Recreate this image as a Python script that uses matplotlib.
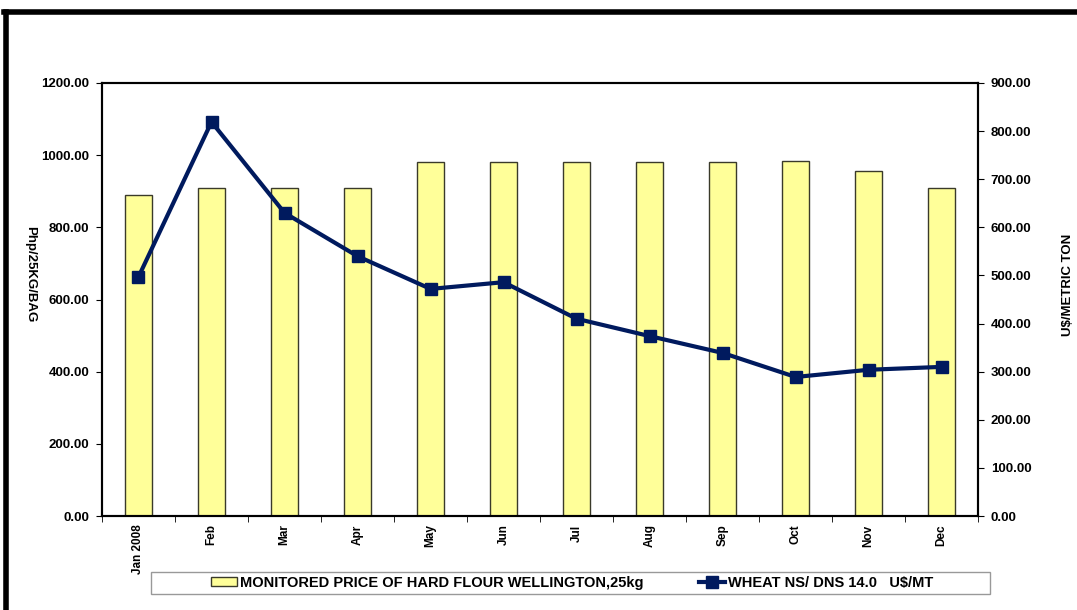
import numpy as np
import matplotlib.pyplot as plt
from matplotlib.lines import Line2D
from matplotlib.patches import Rectangle

plt.rcParams['font.family'] = ['Liberation Sans', 'DejaVu Sans']

months = ['Jan 2008', 'Feb', 'Mar', 'Apr', 'May', 'Jun',
          'Jul', 'Aug', 'Sep', 'Oct', 'Nov', 'Dec']
# Php per 25kg bag, hard flour (left axis)
flour_price = [890, 910, 910, 910, 980, 980, 980, 980, 980, 985, 955, 910]
# US$ per metric ton, wheat NS/DNS 14.0 (right axis)
wheat_price = [497, 819, 630, 540, 472, 486, 410, 374, 339, 289, 304, 310]

BAR_COLOR = '#FFFF99'
LINE_COLOR = '#001A5E'
W, H = 1077, 610

fig = plt.figure(figsize=(W / 100, H / 100), dpi=100)
ax = fig.add_axes([0.0947, 0.154, 0.8135, 0.710])
x = np.arange(len(months))

ax.bar(x, flour_price, width=0.38, color=BAR_COLOR, edgecolor='#3a3a2a',
       linewidth=1.0, zorder=2)
ax.set_xlim(-0.5, len(months) - 0.5)
ax.set_ylim(0, 1200)
ax.set_yticks(np.arange(0, 1201, 200))
ax.set_yticklabels([f'{v:.2f}' for v in np.arange(0, 1201, 200)],
                   fontsize=9.5, fontweight='bold')

# month labels sit under the bars, ticks fall between categories
ax.set_xticks(x)
ax.set_xticklabels(months, rotation=90, fontsize=8.5, fontweight='bold')
ax.tick_params(axis='x', length=0, pad=6)
ax.set_xticks(np.arange(-0.5, len(months), 1), minor=True)
ax.tick_params(axis='x', which='minor', length=4, direction='out')
ax.tick_params(axis='y', length=4, direction='out', pad=5)

ax2 = ax.twinx()
ax2.plot(x, wheat_price, color=LINE_COLOR, linewidth=3, marker='s',
         markersize=9, zorder=3)
ax2.set_ylim(0, 900)
ax2.set_yticks(np.arange(0, 901, 100))
ax2.set_yticklabels([f'{v:.2f}' for v in np.arange(0, 901, 100)],
                    fontsize=9.5, fontweight='bold')
ax2.tick_params(axis='y', length=4, direction='out', pad=5)

for a in (ax, ax2):
    for s in a.spines.values():
        s.set_linewidth(1.5)
        s.set_color('black')

fig.text(30 / W, 1 - 274 / H, 'Php/25KG/BAG', rotation=270,
         ha='center', va='center', fontsize=9.5, fontweight='bold')
fig.text(1068 / W, 1 - 285 / H, 'U$/METRIC TON', rotation=90,
         ha='center', va='center', fontsize=9.5, fontweight='bold')

handles = [
    Rectangle((0, 0), 1, 1, facecolor=BAR_COLOR, edgecolor='#3a3a2a'),
    Line2D([], [], color=LINE_COLOR, linewidth=3, marker='s', markersize=8),
]
labels = ['MONITORED PRICE OF HARD FLOUR WELLINGTON,25kg',
          'WHEAT NS/ DNS 14.0   U$/MT']
fig.legend(handles, labels, loc='center', bbox_to_anchor=(0.531, 1 - 583 / H),
           ncol=2, frameon=False, prop={'size': 10.5, 'weight': 'bold'},
           handlelength=1.8, handleheight=0.6, handletextpad=0.2,
           columnspacing=3.8, borderpad=0.25, borderaxespad=0)
# wide legend box, wider than the entries themselves
fig.add_artist(Rectangle((151 / W, 1 - 594 / H), 839 / W, 22 / H,
                         transform=fig.transFigure, fill=False,
                         edgecolor='#999999', linewidth=1))

# thick frame around the chart
fig.add_artist(Line2D([0.004, 1.0], [0.981, 0.981], transform=fig.transFigure,
                      color='black', linewidth=4))
fig.add_artist(Line2D([0.0056, 0.0056], [0.0, 0.981], transform=fig.transFigure,
                      color='black', linewidth=4))

fig.savefig('out.png', dpi=100)
